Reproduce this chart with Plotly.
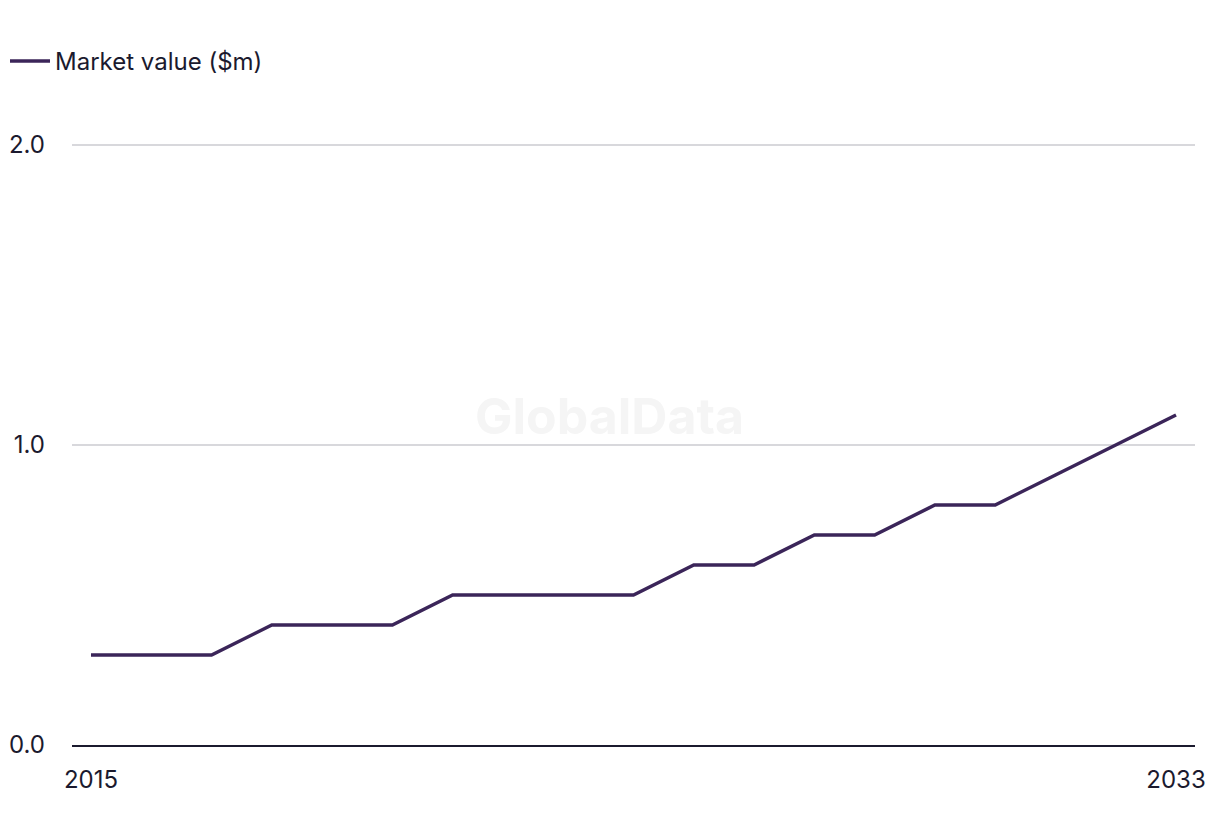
import plotly.graph_objects as go

years = list(range(2015, 2034))
market_value = [0.3, 0.3, 0.3, 0.4, 0.4, 0.4, 0.5, 0.5, 0.5, 0.5,
                0.6, 0.6, 0.7, 0.7, 0.8, 0.8, 0.9, 1.0, 1.1]
series_name = "Market value ($m)"
x_ticks = [2015, 2033]
y_ticks = [0.0, 1.0, 2.0]
y_tick_labels = ["0.0", "1.0", "2.0"]

TEXT = "#1b1a2e"
LINE = "#3b2559"
FONT = "Inter, Liberation Sans, Arial, sans-serif"

fig = go.Figure()
fig.add_trace(go.Scatter(
    x=years, y=market_value, mode="lines", name=series_name,
    line=dict(color=LINE, width=3.5),
))

fig.update_layout(
    width=1220, height=836,
    paper_bgcolor="white", plot_bgcolor="white",
    margin=dict(l=72, r=25, t=142, b=91),
    font=dict(family=FONT, color=TEXT, size=24),
    showlegend=True,
    legend=dict(
        orientation="h", xref="container", yref="container",
        x=5 / 1220, y=1 - 39 / 836, xanchor="left", yanchor="top",
        font=dict(size=24, color=TEXT), itemwidth=40,
        bgcolor="rgba(0,0,0,0)",
    ),
    xaxis=dict(
        range=[2014.685, 2033.315], tickmode="array", tickvals=x_ticks,
        ticktext=[str(v) for v in x_ticks], showgrid=False, zeroline=False,
        showline=True, linecolor=TEXT, linewidth=2, ticks="",
        ticklabelstandoff=12,
        tickfont=dict(size=24, color=TEXT), fixedrange=True,
    ),
    yaxis=dict(
        range=[0, 2.01], tickmode="array", tickvals=y_ticks, ticktext=y_tick_labels,
        showgrid=True, gridcolor="#d8d8dc", gridwidth=1.5, zeroline=False,
        showline=False, ticks="", ticklabelstandoff=26,
        tickfont=dict(size=24, color=TEXT), fixedrange=True,
    ),
    annotations=[dict(
        text="<b>GlobalData</b>", x=0.479, y=0.545, xref="paper", yref="paper",
        showarrow=False, font=dict(size=50, color="#f5f5f5", family=FONT),
    )],
)
fig.update_yaxes(automargin=False)
fig.update_xaxes(automargin=False)

fig.write_html(
    "out.html",
    config={"displayModeBar": False},
    post_script="document.body.style.margin='0';window.dispatchEvent(new Event('resize'));",
)
